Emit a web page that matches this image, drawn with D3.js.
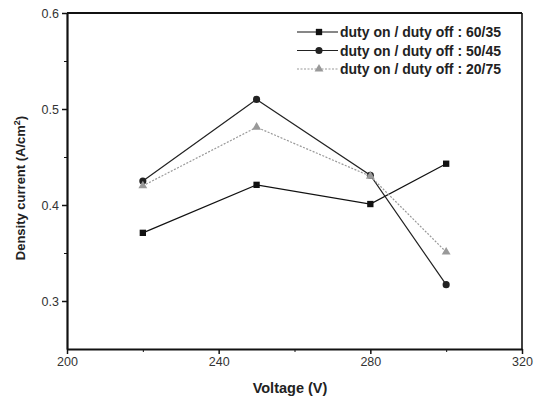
<!DOCTYPE html>
<html>
<head>
<meta charset="utf-8">
<script src="https://cdn.jsdelivr.net/npm/d3@7"></script>
<style>
  body { margin: 0; background: #fff; }
  text { font-family: Arial, "Liberation Sans", sans-serif; }
</style>
</head>
<body>
<div id="chart"></div>
<script>
let width = 544, height = 397;
let margin = {top: 13, right: 22, bottom: 48, left: 67};

// Data
let voltages = [220, 250, 280, 300];
let duty60 = [0.371, 0.421, 0.401, 0.443];
let duty50 = [0.425, 0.510, 0.431, 0.317];
let duty20 = [0.420, 0.481, 0.430, 0.351];
let seriesNames = ["duty on / duty off : 60/35", "duty on / duty off : 50/45", "duty on / duty off : 20/75"];
let xTicks = [200, 240, 280, 320];
let yTicks = [0.3, 0.4, 0.5, 0.6];

let series = [
    {name: seriesNames[0], values: duty60, symbol: d3.symbolSquare, color: "#111", dash: null, size: 40},
    {name: seriesNames[1], values: duty50, symbol: d3.symbolCircle, color: "#222", dash: null, size: 40},
    {name: seriesNames[2], values: duty20, symbol: d3.symbolTriangle, color: "#999", dash: "2,1.5", size: 34}
];

let svg = d3.select("#chart").append("svg")
    .attr("width", width)
    .attr("height", height);

let plotW = width - margin.left - margin.right;
let plotH = height - margin.top - margin.bottom;

let g = svg.append("g").attr("transform", `translate(${margin.left}, ${margin.top})`);

let x = d3.scaleLinear().domain([200, 320]).range([0, plotW]);
let y = d3.scaleLinear().domain([0.25, 0.6]).range([plotH, 0]);

// Minor ticks
g.append("g")
    .attr("transform", `translate(0, ${plotH})`)
    .call(d3.axisBottom(x).tickValues([220, 260, 300]).tickSize(3).tickFormat(""))
    .call(a => a.select(".domain").remove());
g.append("g")
    .call(d3.axisLeft(y).tickValues([0.35, 0.45, 0.55]).tickSize(3).tickFormat(""))
    .call(a => a.select(".domain").remove());

// Major axes
let xAxis = g.append("g")
    .attr("transform", `translate(0, ${plotH})`)
    .call(d3.axisBottom(x).tickValues(xTicks).tickSize(5).tickSizeOuter(0).tickPadding(3));
let yAxis = g.append("g")
    .call(d3.axisLeft(y).tickValues(yTicks).tickSize(5).tickSizeOuter(0).tickFormat(d3.format(".1f")).tickPadding(3));

[xAxis, yAxis].forEach(function(a) {
    a.select(".domain").attr("stroke-width", 2.2).attr("stroke", "#111");
    a.selectAll(".tick line").attr("stroke-width", 1.5);
    a.selectAll(".tick text").style("font-size", "12.5px").attr("fill", "#333");
});
g.selectAll(".tick line").attr("stroke", "#111");

// Top and right frame
g.append("line").attr("x1", 0).attr("x2", plotW).attr("y1", 0).attr("y2", 0)
    .attr("stroke", "#111").attr("stroke-width", 2.2);
g.append("line").attr("x1", plotW).attr("x2", plotW).attr("y1", 0).attr("y2", plotH)
    .attr("stroke", "#111").attr("stroke-width", 1.6);

// Lines and markers
let line = d3.line()
    .x(function(d, i) { return x(voltages[i]); })
    .y(function(d) { return y(d); });

series.forEach(function(s) {
    g.append("path")
        .datum(s.values)
        .attr("fill", "none")
        .attr("stroke", s.color)
        .attr("stroke-width", 1.2)
        .attr("stroke-dasharray", s.dash)
        .attr("d", line);
    g.selectAll(null)
        .data(s.values)
        .enter()
        .append("path")
        .attr("d", d3.symbol().type(s.symbol).size(s.size))
        .attr("transform", function(d, i) { return `translate(${x(voltages[i])}, ${y(d)})`; })
        .attr("fill", s.color);
});

// Legend
let legend = svg.append("g").attr("transform", "translate(297, 32)");
series.forEach(function(s, i) {
    let row = legend.append("g").attr("transform", `translate(0, ${i * 18.5})`);
    row.append("line")
        .attr("x1", 0).attr("x2", 41)
        .attr("stroke", s.color)
        .attr("stroke-width", 1.2)
        .attr("stroke-dasharray", s.dash);
    row.append("path")
        .attr("d", d3.symbol().type(s.symbol).size(s.size))
        .attr("transform", "translate(22, 0)")
        .attr("fill", s.color);
    row.append("text")
        .attr("x", 43)
        .attr("y", 5)
        .style("font-size", "14px")
        .style("font-weight", "bold")
        .attr("fill", "#222")
        .text(s.name);
});

// Axis labels
svg.append("text")
    .attr("x", 290)
    .attr("y", 393)
    .style("text-anchor", "middle")
    .style("font-size", "14.5px")
    .style("font-weight", "bold")
    .attr("fill", "#222")
    .text("Voltage (V)");

let yLabel = svg.append("text")
    .attr("transform", "translate(25, 188) rotate(-90)")
    .style("text-anchor", "middle")
    .style("font-size", "13px")
    .style("font-weight", "bold")
    .attr("fill", "#222");
yLabel.append("tspan").text("Density current (A/cm");
yLabel.append("tspan").attr("dy", -5).style("font-size", "9px").text("2");
yLabel.append("tspan").attr("dy", 5).text(")");
</script>
</body>
</html>
